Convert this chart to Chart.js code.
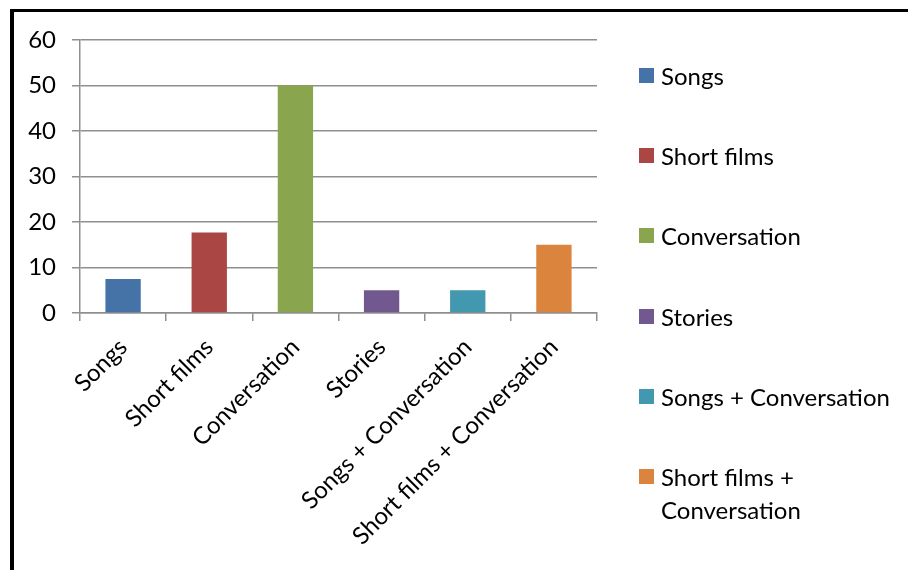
<!DOCTYPE html>
<html>
<head>
<meta charset="utf-8">
<script src="https://cdn.jsdelivr.net/npm/chart.js@4"></script>
<style>
    html, body { margin: 0; padding: 0; background: #fff; }
    #frame {
        position: absolute; left: 10px; top: 9px; width: 898px; height: 561px;
        border-left: 4px solid #000; border-top: 3px solid #000; box-sizing: border-box;
    }
    #wrap { position: absolute; left: 0; top: 0; width: 908px; height: 570px; }
    #legend { position: absolute; left: 639px; top: 0; font-family: Lato, sans-serif; font-size: 24px; color: #000; }
    .item { position: absolute; left: 0; width: 262px; display: flex; align-items: flex-start; line-height: 33px; }
    .box { width: 15px; height: 15px; margin-top: 9px; margin-right: 7px; flex: none; }
</style>
</head>
<body>
<div id="frame"></div>
<div id="wrap"><canvas id="chart" width="908" height="570"></canvas></div>
<div id="legend"></div>
<script>
// Chart data
const categories = ['Songs', 'Short films', 'Conversation', 'Stories', 'Songs + Conversation', 'Short films + Conversation'];
const values = [7.5, 17.7, 50, 5, 5, 15];
const barColors = ['#4572A7', '#AA4643', '#89A54E', '#71588F', '#4198AF', '#DB843D'];
const yTicks = [0, 10, 20, 30, 40, 50, 60];

const legendLabels = ['Songs', 'Short films', 'Conversation', 'Stories', 'Songs + Conversation', 'Short films + Conversation'];

const FONT = { family: 'Lato, sans-serif', size: 24 };
const GRID = '#8f8f8f';

// legend on the right, one entry per category
function buildLegend() {
    const legend = document.getElementById('legend');
    legendLabels.forEach((label, i) => {
        const item = document.createElement('div');
        item.className = 'item';
        item.style.top = (59 + i * 80.2) + 'px';
        const box = document.createElement('span');
        box.className = 'box';
        box.style.background = barColors[i];
        const text = document.createElement('span');
        text.textContent = label;
        item.appendChild(box);
        item.appendChild(text);
        legend.appendChild(item);
    });
}

function initChart() {
    const ctx = document.getElementById('chart');
    new Chart(ctx, {
        type: 'bar',
        data: {
            labels: categories,
            datasets: [{
                label: 'Count',
                data: values,
                backgroundColor: barColors,
                borderWidth: 0,
                categoryPercentage: 1,
                barPercentage: 0.41
            }]
        },
        options: {
            responsive: false,
            animation: false,
            layout: { padding: { left: 0, right: 311, top: 40, bottom: 0 } },
            plugins: {
                legend: { display: false },
                tooltip: { enabled: false }
            },
            scales: {
                y: {
                    min: 0,
                    max: 60,
                    afterBuildTicks: (scale) => { scale.ticks = yTicks.map(v => ({ value: v })); },
                    afterFit: (scale) => { scale.width = 80; },
                    ticks: { font: FONT, color: '#000', padding: 16 },
                    grid: { color: GRID, lineWidth: 1.5, tickLength: 8 },
                    border: { color: GRID, width: 1.5 }
                },
                x: {
                    afterFit: (scale) => { scale.height = 257; },
                    ticks: { font: FONT, color: '#000', minRotation: 45, maxRotation: 45, padding: 12, autoSkip: false },
                    grid: { drawOnChartArea: false, color: GRID, lineWidth: 1.5, tickLength: 8 },
                    border: { color: GRID, width: 1.5 }
                }
            }
        }
    });
}

buildLegend();
initChart();
</script>
</body>
</html>
